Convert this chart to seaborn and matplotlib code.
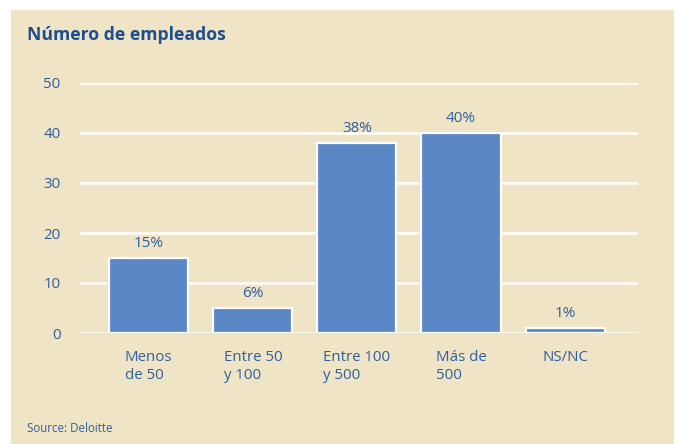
import numpy as np
import pandas as pd
import matplotlib
matplotlib.use("Agg")
import matplotlib.pyplot as plt
import seaborn as sns
from matplotlib.patches import Rectangle

# Data
categories = ["Menos\nde 50", "Entre 50\ny 100", "Entre 100\ny 500", "Más de\n500", "NS/NC"]
values = [15, 5, 38, 40, 1]
value_labels = ["15%", "6%", "38%", "40%", "1%"]
y_ticks = [0, 10, 20, 30, 40, 50]

beige = "#f0e4c6"
bar_blue = "#5b87c6"
text_blue = "#2f5f9c"
title_blue = "#1d4f8e"

sns.set_theme(style="white")
plt.rcParams["font.family"] = ["Open Sans", "DejaVu Sans"]

df = pd.DataFrame({"cat": categories, "val": values})

fig = plt.figure(figsize=(6.83, 4.44), dpi=100, facecolor="white")
# beige panel behind everything
fig.patches.append(Rectangle((11 / 683, 0), 663 / 683, 434 / 444,
                             transform=fig.transFigure, facecolor=beige,
                             edgecolor="none", zorder=-10))

ax = fig.add_axes([80 / 683, 1 - 333 / 444, 558 / 683, 250 / 444])
ax.set_facecolor(beige)
sns.barplot(data=df, x="cat", y="val", color=bar_blue, saturation=1,
            width=0.76, edgecolor="white", linewidth=1.6, ax=ax)

ax.bar_label(ax.containers[0], labels=value_labels, padding=5,
             color=text_blue, fontsize=11)

ax.set_ylim(0, 50)
ax.set_xlim(-0.66, 4.7)
ax.set_yticks(y_ticks)
ax.yaxis.grid(True, color="white", linewidth=1.8)
ax.set_axisbelow(True)
for s in ax.spines.values():
    s.set_visible(False)
ax.tick_params(axis="both", length=0, colors=text_blue, labelsize=10.8)
ax.tick_params(axis="y", pad=14)
ax.tick_params(axis="x", pad=12)
for lbl in ax.get_xticklabels():
    lbl.set_multialignment("left")
    lbl.set_verticalalignment("top")
    lbl.set_linespacing(1.3)
ax.set_xlabel("")
ax.set_ylabel("")

fig.text(27 / 683, 1 - 35 / 444, "Número de empleados", fontsize=12.7,
         fontweight="bold", color=title_blue, va="center", ha="left")
fig.text(27 / 683, 1 - 428 / 444, "Source: Deloitte", fontsize=8.3,
         color=text_blue, va="center", ha="left")

fig.savefig("out.png", dpi=100, facecolor="white")
